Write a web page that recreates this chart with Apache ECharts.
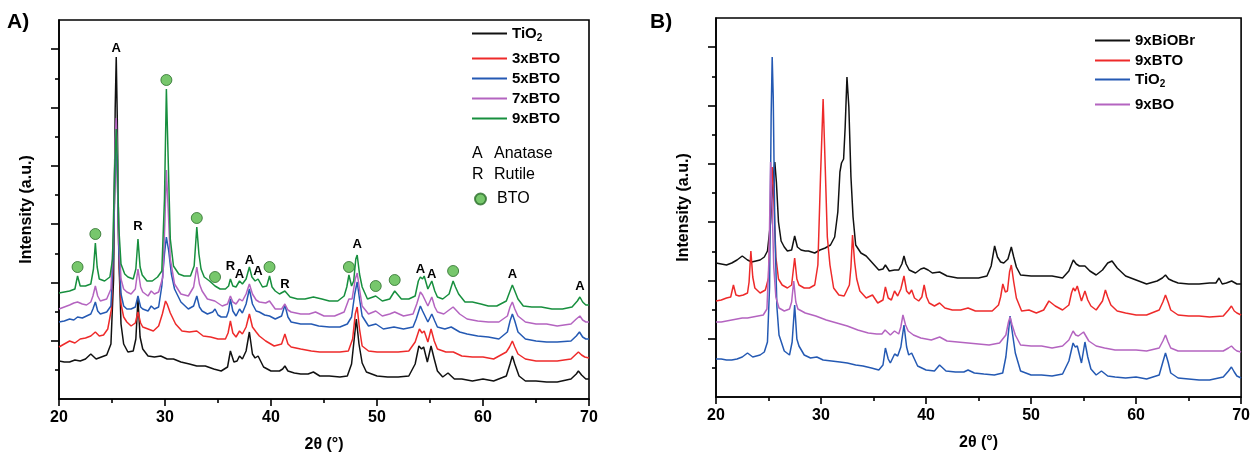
<!DOCTYPE html>
<html><head><meta charset="utf-8">
<script src="https://cdn.jsdelivr.net/npm/echarts@6/dist/echarts.min.js"></script>
<style>html,body{margin:0;padding:0;background:#fff}#c{width:1253px;height:461px}</style>
</head><body><div id="c"></div>
<script>
// ---------- Panel A data: [2theta, intensity (a.u.)] ----------
const tio2A = [[20,38],[20.5,37],[21,37],[21.5,39],[22,38],[22.5,40],[23,45],[23.5,40],[24,42],[24.5,44],[24.9,55],[25.15,120],[25.3,290],[25.4,342],[25.5,280],[25.65,140],[25.85,75],[26.1,55],[26.5,47],[27,48],[27.25,60],[27.45,100],[27.65,62],[27.9,50],[28.4,43],[29,42],[29.6,43],[30.2,40],[30.8,40],[31.5,37],[32.3,35],[33,33],[33.8,33],[34.6,30],[35.3,28],[35.9,32],[36.17,48],[36.5,37],[36.8,38],[37.03,43],[37.3,40],[37.65,48],[37.96,67],[38.25,45],[38.5,41],[38.78,43],[39.3,32],[40,28],[40.8,28],[41.1,30],[41.31,33],[41.6,28],[42.2,26],[42.8,25],[43.5,25],[44,27],[44.6,23],[45.5,23],[46.5,22],[47.2,23],[47.6,35],[47.85,60],[48.05,80],[48.3,55],[48.6,36],[49,27],[50,23],[51,22],[52,22],[53,23],[53.6,35],[53.95,53],[54.2,50],[54.4,52],[54.75,37],[55.1,53],[55.4,40],[55.7,28],[56.2,22],[56.7,26],[57.3,20],[58,20],[59,18],[60,20],[61,18],[62.2,23],[62.55,35],[62.77,43],[63,35],[63.4,23],[64,18],[65,18],[66,17],[67,17],[68.3,20],[68.8,25],[69,28],[69.3,24],[69.7,20],[70,20]];
const bto3A = [[20,52],[20.5,55],[21,58],[21.5,56],[22,60],[22.5,61],[23,63],[23.43,67],[23.8,63],[24.2,64],[24.6,70],[24.95,90],[25.15,150],[25.3,240],[25.4,269],[25.5,230],[25.65,140],[25.85,95],[26.1,82],[26.4,77],[26.8,73],[27.2,76],[27.45,87],[27.7,76],[27.9,72],[28.4,70],[28.9,68],[29.4,73],[29.75,85],[30.05,98],[30.2,95],[30.5,86],[31,75],[31.6,68],[32.3,67],[33,68],[33.6,63],[34.3,62],[35,60],[35.7,60],[35.95,66],[36.17,78],[36.4,66],[36.7,62],[37.03,68],[37.3,65],[37.65,72],[37.96,85],[38.25,72],[38.6,67],[38.9,63],[39.5,58],[40.3,53],[41,55],[41.31,65],[41.6,55],[41.9,52],[42.8,50],[43.8,48],[44.6,47],[45.5,47],[46.5,47],[47.3,48],[47.7,60],[47.95,85],[48.13,92],[48.35,70],[48.6,53],[49.2,48],[50,47],[51,47],[52,47],[53,48],[53.6,57],[54,70],[54.25,66],[54.45,68],[54.8,57],[55.1,70],[55.4,58],[55.7,50],[56.5,47],[57.2,47],[58,43],[59,42],[60,42],[61,40],[62.2,47],[62.5,52],[62.77,58],[63,52],[63.3,45],[64,40],[65,38],[66,38],[67,38],[68.3,40],[68.8,45],[69,47],[69.3,44],[69.6,42],[70,41]];
const bto5A = [[20,77],[20.5,78],[21,80],[21.4,79],[21.75,82],[22.2,81],[22.6,83],[23,85],[23.2,90],[23.43,97],[23.65,88],[23.9,85],[24.5,87],[24.9,93],[25.15,150],[25.3,235],[25.4,259],[25.5,225],[25.65,145],[25.85,105],[26.1,93],[26.4,90],[26.8,90],[27.2,92],[27.45,103],[27.7,92],[27.9,90],[28.4,88],[28.7,93],[29,90],[29.4,92],[29.7,113],[29.95,145],[30.13,162],[30.35,148],[30.6,125],[30.9,110],[31.5,97],[32.2,90],[32.7,93],[33,103],[33.25,92],[33.5,88],[34,85],[34.5,87],[34.72,90],[35,84],[35.3,82],[35.8,82],[36,88],[36.17,100],[36.4,88],[36.7,83],[37.03,90],[37.3,86],[37.65,95],[37.96,110],[38.25,95],[38.6,88],[38.9,87],[39.4,84],[39.86,83],[40.4,80],[41,83],[41.31,94],[41.6,82],[41.9,77],[42.8,75],[43.8,75],[44.5,73],[45.5,72],[46.5,72],[47.2,75],[47.6,82],[47.9,105],[48.13,117],[48.35,100],[48.6,83],[49.2,73],[49.9,75],[50.6,70],[51.6,72],[52.5,70],[53.4,72],[53.7,80],[54.09,93],[54.3,88],[54.45,88],[54.8,77],[55.17,85],[55.45,78],[55.7,72],[56.4,70],[57,72],[57.8,67],[58.5,65],[59.5,63],[60.5,62],[61.5,60],[62.3,67],[62.55,78],[62.77,85],[63,78],[63.3,67],[64,60],[65,58],[66,57],[67,57],[68.3,58],[68.8,63],[69.1,67],[69.4,62],[69.7,60],[70,60]];
const bto7A = [[20,90],[20.5,92],[21,94],[21.4,96],[21.75,97],[22.2,95],[22.6,94],[23,97],[23.2,103],[23.43,113],[23.65,103],[23.9,98],[24.5,100],[24.9,110],[25.15,170],[25.3,260],[25.4,281],[25.5,245],[25.65,160],[25.85,120],[26.1,110],[26.4,107],[26.8,105],[27.2,110],[27.45,130],[27.7,112],[27.9,107],[28.4,103],[28.7,108],[29,105],[29.4,107],[29.8,122],[30,180],[30.13,229],[30.3,190],[30.5,140],[30.9,115],[31.5,105],[32.2,103],[32.7,112],[33,132],[33.25,115],[33.5,108],[34,100],[34.7,98],[35.4,93],[35.9,95],[36.17,103],[36.4,97],[36.7,95],[37.03,100],[37.3,98],[37.65,105],[37.96,115],[38.25,105],[38.6,99],[38.9,97],[39.5,96],[39.86,98],[40.4,90],[41,90],[41.31,95],[41.6,89],[41.9,87],[42.8,85],[43.6,85],[44.2,87],[45,83],[46,83],[46.9,87],[47.35,100],[47.65,100],[47.95,120],[48.13,126],[48.35,110],[48.6,93],[49.2,85],[49.88,88],[50.5,83],[51.2,85],[51.67,87],[52.5,83],[53.4,85],[53.75,95],[54.09,107],[54.3,104],[54.45,103],[54.8,93],[55.17,102],[55.45,92],[55.7,87],[56.3,85],[56.8,89],[57.18,92],[57.8,85],[58.5,80],[59.5,78],[60.5,77],[61.5,77],[62.3,83],[62.55,92],[62.77,97],[63,90],[63.3,83],[64,77],[65,75],[66,75],[67,73],[68.3,75],[68.8,80],[69.14,83],[69.4,79],[69.7,77],[70,77]];
const bto9A = [[20,106],[20.5,107],[21,108],[21.5,110],[21.75,123],[22,113],[22.5,113],[23,115],[23.25,130],[23.43,156],[23.6,132],[23.8,120],[24.3,118],[24.8,122],[25.05,140],[25.25,230],[25.4,270],[25.5,240],[25.65,170],[25.85,135],[26.2,125],[26.5,122],[27,120],[27.25,130],[27.45,160],[27.65,132],[27.85,124],[28.3,118],[28.8,118],[29.3,122],[29.7,128],[29.95,200],[30.13,310],[30.3,240],[30.5,160],[30.8,133],[31.3,125],[31.8,123],[32.4,123],[32.75,133],[33,172],[33.2,145],[33.4,130],[33.7,122],[34.2,118],[34.72,113],[35.2,110],[35.7,110],[36,113],[36.17,120],[36.4,113],[36.7,112],[37.03,118],[37.3,115],[37.65,120],[37.96,132],[38.2,122],[38.5,118],[38.78,120],[39.2,112],[39.6,113],[39.86,123],[40.1,112],[40.4,108],[40.8,105],[41.31,108],[41.8,102],[42.5,100],[43.2,100],[44,102],[44.8,100],[45.5,98],[46.3,98],[46.9,103],[47.15,112],[47.35,124],[47.6,113],[47.8,118],[48,140],[48.13,144],[48.35,125],[48.6,112],[49.1,100],[49.88,103],[50.5,98],[51.2,100],[51.67,108],[52.3,100],[53,100],[53.6,103],[53.9,118],[54.09,122],[54.3,120],[54.45,123],[54.8,110],[55.17,118],[55.45,108],[55.7,102],[56.2,100],[56.8,105],[57,112],[57.18,118],[57.4,112],[57.7,105],[58.3,97],[59,97],[59.8,95],[60.5,93],[61.3,93],[62.2,98],[62.55,108],[62.77,114],[63,108],[63.3,100],[63.8,93],[64.6,92],[65.5,92],[66.5,90],[67.5,90],[68.4,92],[68.9,98],[69.14,102],[69.4,97],[69.7,94],[70,94]];
// phase markers (A)
const btoMarks = [[21.75,132],[23.43,165],[30.13,319],[33.0,181],[34.72,122],[39.86,132],[47.35,132],[49.88,113],[51.67,119],[57.18,128]];
const anataseMarks = [[25.4,351],[37.03,125],[37.96,139],[38.78,128],[48.13,155],[54.09,130],[55.17,125],[62.77,125],[69.14,113]];
const rutileMarks = [[27.45,173],[36.17,133],[41.31,115]];

// ---------- Panel B data ----------
const biobrB = [[20,134],[20.5,133],[21,132],[21.5,134],[22,137],[22.5,141],[23,137],[23.4,135],[23.8,136],[24.2,137],[24.6,140],[24.9,146],[25.2,175],[25.45,220],[25.6,235],[25.75,215],[25.95,175],[26.2,156],[26.5,150],[26.8,146],[27.2,147],[27.49,161],[27.75,150],[28.1,147],[28.5,146],[28.8,146],[29.4,144],[29.9,147],[30.4,149],[30.9,152],[31.3,160],[31.6,185],[31.8,225],[31.95,234],[32.15,238],[32.3,270],[32.47,320],[32.65,290],[32.85,220],[33.05,180],[33.3,152],[33.8,144],[34.3,141],[34.9,134],[35.5,127],[35.9,128],[36.13,132],[36.5,126],[37,127],[37.4,127],[37.7,133],[37.9,141],[38.1,133],[38.4,127],[39,124],[39.5,128],[39.8,129],[40.2,127],[40.6,124],[41.29,125],[42,121],[43,119],[44,119],[45,119],[45.8,121],[46.2,131],[46.53,151],[46.8,140],[47.1,135],[47.4,134],[47.8,138],[48.12,150],[48.35,140],[48.6,130],[49,122],[50,121],[51,121],[52,121],[53,119],[53.6,126],[54.02,137],[54.3,133],[54.6,131],[55.13,131],[55.6,126],[56.2,122],[56.8,127],[57.3,134],[57.71,136],[58.2,129],[59,121],[60,117],[61,113],[62,116],[62.5,119],[62.8,122],[63.1,118],[63.5,116],[64,114],[65,113],[66,113],[67,114],[67.6,114],[67.9,119],[68.2,113],[68.6,114],[69.1,116],[69.6,113],[70,113]];
const bto9B = [[20,96],[20.5,97],[21,99],[21.4,100],[21.66,112],[21.9,102],[22.2,101],[22.6,102],[23,104],[23.15,115],[23.32,146],[23.5,120],[23.7,109],[24.2,104],[24.7,107],[25,119],[25.2,190],[25.35,230],[25.5,200],[25.7,140],[25.95,118],[26.3,112],[26.8,109],[27.2,112],[27.49,139],[27.7,118],[27.9,112],[28.4,109],[28.9,109],[29.4,112],[29.7,132],[29.95,220],[30.2,298],[30.4,230],[30.6,160],[30.85,132],[31.2,109],[31.7,102],[32.2,101],[32.7,112],[32.85,130],[33,162],[33.2,135],[33.4,118],[33.7,106],[34.3,99],[34.9,102],[35.4,94],[35.9,97],[36.13,110],[36.4,99],[36.7,97],[37,106],[37.3,101],[37.6,108],[37.9,121],[38.15,106],[38.4,103],[38.63,107],[38.9,99],[39.3,96],[39.6,100],[39.82,112],[40.05,100],[40.3,94],[40.8,91],[41.29,94],[41.8,89],[42.5,87],[43.3,87],[44,89],[44.7,86],[45.5,86],[46.3,86],[46.9,92],[47.1,100],[47.31,113],[47.55,105],[47.75,106],[47.95,125],[48.12,132],[48.35,115],[48.6,99],[49.1,86],[49.8,87],[50.5,84],[51.2,87],[51.7,96],[52.3,91],[53,87],[53.6,92],[53.85,104],[54.02,109],[54.2,106],[54.4,111],[54.8,96],[55.13,106],[55.4,97],[55.7,91],[56.2,87],[56.8,96],[57.08,107],[57.3,100],[57.6,92],[58.2,86],[59,84],[60,82],[61,82],[62.2,87],[62.55,95],[62.8,102],[63.05,95],[63.3,87],[64,82],[65,81],[66,81],[67,80],[68.3,81],[68.8,87],[69.08,91],[69.35,86],[69.6,84],[70,82]];
const tio2B = [[20,38],[20.5,38],[21,37],[21.5,37],[22,38],[22.5,40],[23,44],[23.5,40],[24.2,42],[24.6,45],[24.9,55],[25.1,110],[25.25,280],[25.35,340],[25.45,300],[25.6,170],[25.8,90],[26,62],[26.5,46],[27,42],[27.25,55],[27.49,92],[27.7,58],[27.9,51],[28.4,42],[29,39],[29.6,40],[30.2,37],[31,36],[31.8,35],[32.5,34],[33.3,32],[34,31],[34.8,29],[35.5,27],[35.9,32],[36.13,49],[36.4,38],[36.6,34],[37.01,43],[37.3,41],[37.6,50],[37.9,72],[38.15,50],[38.35,42],[38.63,44],[39.2,31],[40,27],[40.8,26],[41.29,32],[41.9,26],[42.8,25],[43.6,25],[44,27],[44.6,24],[45.5,23],[46.5,22],[47.3,24],[47.6,40],[47.85,65],[48,81],[48.25,62],[48.5,44],[49,26],[50,22],[51,22],[52,21],[53,23],[53.6,36],[54,54],[54.2,50],[54.4,51],[54.8,34],[55.13,55],[55.4,40],[55.7,28],[56.2,22],[56.7,26],[57.3,21],[58,20],[59,19],[60,20],[61,18],[62.2,22],[62.55,35],[62.8,44],[63.05,35],[63.3,24],[64,19],[65,18],[66,17],[67,17],[68.3,20],[68.8,26],[69.08,30],[69.35,25],[69.6,21],[70,19]];
const boB = [[20,75],[20.5,75],[21,76],[21.5,77],[22,78],[22.5,79],[23,79],[23.5,80],[24,81],[24.5,82],[24.85,88],[25.05,140],[25.2,235],[25.32,200],[25.5,130],[25.7,100],[26,89],[26.5,86],[27,88],[27.2,95],[27.4,116],[27.6,95],[27.8,88],[28.5,84],[29.5,81],[30.5,77],[31.5,74],[32.5,71],[33.5,67],[34.5,64],[35.3,63],[35.8,63],[36.1,67],[36.6,62],[37,66],[37.4,63],[37.6,70],[37.8,82],[38.05,72],[38.3,66],[38.8,62],[39.5,59],[40.5,57],[41.3,60],[42,56],[43,55],[44,54],[45,53],[46,52],[47,54],[47.6,62],[47.85,75],[48,80],[48.2,72],[48.5,62],[49,52],[50,51],[51,51],[52,49],[53,51],[53.6,57],[54,66],[54.25,62],[54.5,61],[55,65],[55.5,56],[56.2,51],[57,49],[58,47],[59,47],[60,47],[61,46],[62.2,49],[62.55,56],[62.8,62],[63.05,55],[63.3,49],[64,46],[65,46],[66,46],[67,46],[68.3,46],[68.8,49],[69.08,51],[69.35,48],[69.6,46],[70,45]];

// axis ticks
const xTicks = [20, 30, 40, 50, 60, 70];
const yMajorTicks = [58.3, 116.6, 174.9, 233.2, 291.5, 349.8];
const yMinorTicks = [29.15, 87.45, 145.75, 204.05, 262.35, 320.65];
const Y_MAX = 379;

const FONT = '"Liberation Sans", Arial, sans-serif';
const C = {black:'#111111', red:'#ee2a2a', blue:'#2459b3', purple:'#b464c0', green:'#178f3e'};

const chart = echarts.init(document.getElementById('c'));

function xAx(gi){
  return {type:'value', gridIndex:gi, min:xTicks[0], max:xTicks[xTicks.length-1], interval:10,
    name:'2θ (°)', nameLocation:'middle', nameGap:38,
    nameTextStyle:{fontFamily:FONT, fontSize:16, fontWeight:'bold', color:'#000'},
    axisLine:{lineStyle:{color:'#000', width:1.6}},
    axisTick:{length:7, lineStyle:{color:'#000', width:1.6}},
    minorTick:{show:true, splitNumber:2, length:4, lineStyle:{color:'#000', width:1.6}},
    splitLine:{show:false}, minorSplitLine:{show:false},
    axisLabel:{fontFamily:FONT, fontSize:16, fontWeight:'bold', color:'#000', margin:11}};
}
function yAxMajor(gi){
  return {type:'value', gridIndex:gi, min:0, max:Y_MAX, position:'left',
    name:'Intensity (a.u.)', nameLocation:'middle', nameGap:24,
    nameTextStyle:{fontFamily:FONT, fontSize:16, fontWeight:'bold', color:'#000'},
    axisLine:{show:true, lineStyle:{color:'#000', width:1.6}},
    axisTick:{show:true, customValues:yMajorTicks, length:8, lineStyle:{color:'#000', width:1.6}},
    axisLabel:{show:false}, splitLine:{show:false}};
}
function yAxMinor(gi){
  return {type:'value', gridIndex:gi, min:0, max:Y_MAX, position:'left',
    axisLine:{show:false},
    axisTick:{show:true, customValues:yMinorTicks, length:4, lineStyle:{color:'#000', width:1.6}},
    axisLabel:{show:false}, splitLine:{show:false}};
}
function ln(name, data, color, gi){
  return {type:'line', name, data, xAxisIndex:gi, yAxisIndex:gi*2, symbol:'none', showSymbol:false,
    lineStyle:{color, width:1.5}, itemStyle:{color}, animation:false, silent:true};
}
function tag(name, data, text){
  return {type:'scatter', name, data, xAxisIndex:0, yAxisIndex:0, symbol:'circle', symbolSize:1,
    itemStyle:{color:'rgba(0,0,0,0)'}, silent:true, animation:false, z:5,
    label:{show:true, position:'inside', formatter:text, fontFamily:FONT, fontSize:13, fontWeight:'bold', color:'#000', opacity:1}};
}
const rich = {b:{fontFamily:FONT, fontSize:15, fontWeight:'bold', color:'#000'},
              s:{fontFamily:FONT, fontSize:10, fontWeight:'bold', color:'#000', padding:[9,0,0,0]}};
function fmt(n){ n = n.replace('#B',''); return n==='TiO2' ? '{b|TiO}{s|2}' : '{b|'+n+'}'; }
function lg(name, left, top){
  return {data:[name], left, top, padding:0, itemGap:0, itemWidth:35, itemHeight:2, icon:'rect',
    selectedMode:false, formatter:fmt,
    textStyle:{fontFamily:FONT, fontSize:15, fontWeight:'bold', color:'#000', rich}};
}

const option = {
  backgroundColor:'#fff',
  animation:false,
  grid:[
    {left:59, right:1253-589, top:20, bottom:461-399, show:true, borderColor:'#000', borderWidth:1.6},
    {left:716, right:1253-1246, top:18, bottom:461-397, show:true, borderColor:'#000', borderWidth:1.6}
  ],
  xAxis:[xAx(0), xAx(1)],
  yAxis:[yAxMajor(0), yAxMinor(0), yAxMajor(1), yAxMinor(1)],
  legend:[
    lg('TiO2', 472, 26), lg('3xBTO', 472, 51), lg('5xBTO', 472, 71), lg('7xBTO', 472, 91), lg('9xBTO', 472, 111),
    {data:['BTO'], left:474, top:191, padding:0, itemWidth:11, itemHeight:11, selectedMode:false,
     textStyle:{fontFamily:FONT, fontSize:16, color:'#000', padding:[0,0,0,6]}},
    lg('9xBiOBr#B', 1095, 33), lg('9xBTO#B', 1095, 53), lg('TiO2#B', 1095, 72), lg('9xBO#B', 1095, 97)
  ],
  graphic:[
    {type:'text', left:7, top:12, style:{text:'A)', font:'bold 21px '+FONT, fill:'#000'}},
    {type:'text', left:650, top:12, style:{text:'B)', font:'bold 21px '+FONT, fill:'#000'}},
    {type:'text', left:472, top:146, style:{text:'A', font:'16px '+FONT, fill:'#000'}},
    {type:'text', left:494, top:146, style:{text:'Anatase', font:'16px '+FONT, fill:'#000'}},
    {type:'text', left:472, top:167, style:{text:'R', font:'16px '+FONT, fill:'#000'}},
    {type:'text', left:494, top:167, style:{text:'Rutile', font:'16px '+FONT, fill:'#000'}}
  ],
  series:[
    ln('TiO2', tio2A, C.black, 0),
    ln('3xBTO', bto3A, C.red, 0),
    ln('5xBTO', bto5A, C.blue, 0),
    ln('7xBTO', bto7A, C.purple, 0),
    ln('9xBTO', bto9A, C.green, 0),
    {type:'scatter', name:'BTO', data:btoMarks, xAxisIndex:0, yAxisIndex:0, symbol:'circle', symbolSize:11,
     itemStyle:{color:'#55b947', borderColor:'#2b6e2b', borderWidth:1}, silent:true, animation:false},
    tag('Anatase', anataseMarks, 'A'),
    tag('Rutile', rutileMarks, 'R'),
    ln('9xBiOBr#B', biobrB, C.black, 1),
    ln('9xBTO#B', bto9B, C.red, 1),
    ln('TiO2#B', tio2B, C.blue, 1),
    ln('9xBO#B', boB, C.purple, 1)
  ]
};
chart.setOption(option);
</script></body></html>
